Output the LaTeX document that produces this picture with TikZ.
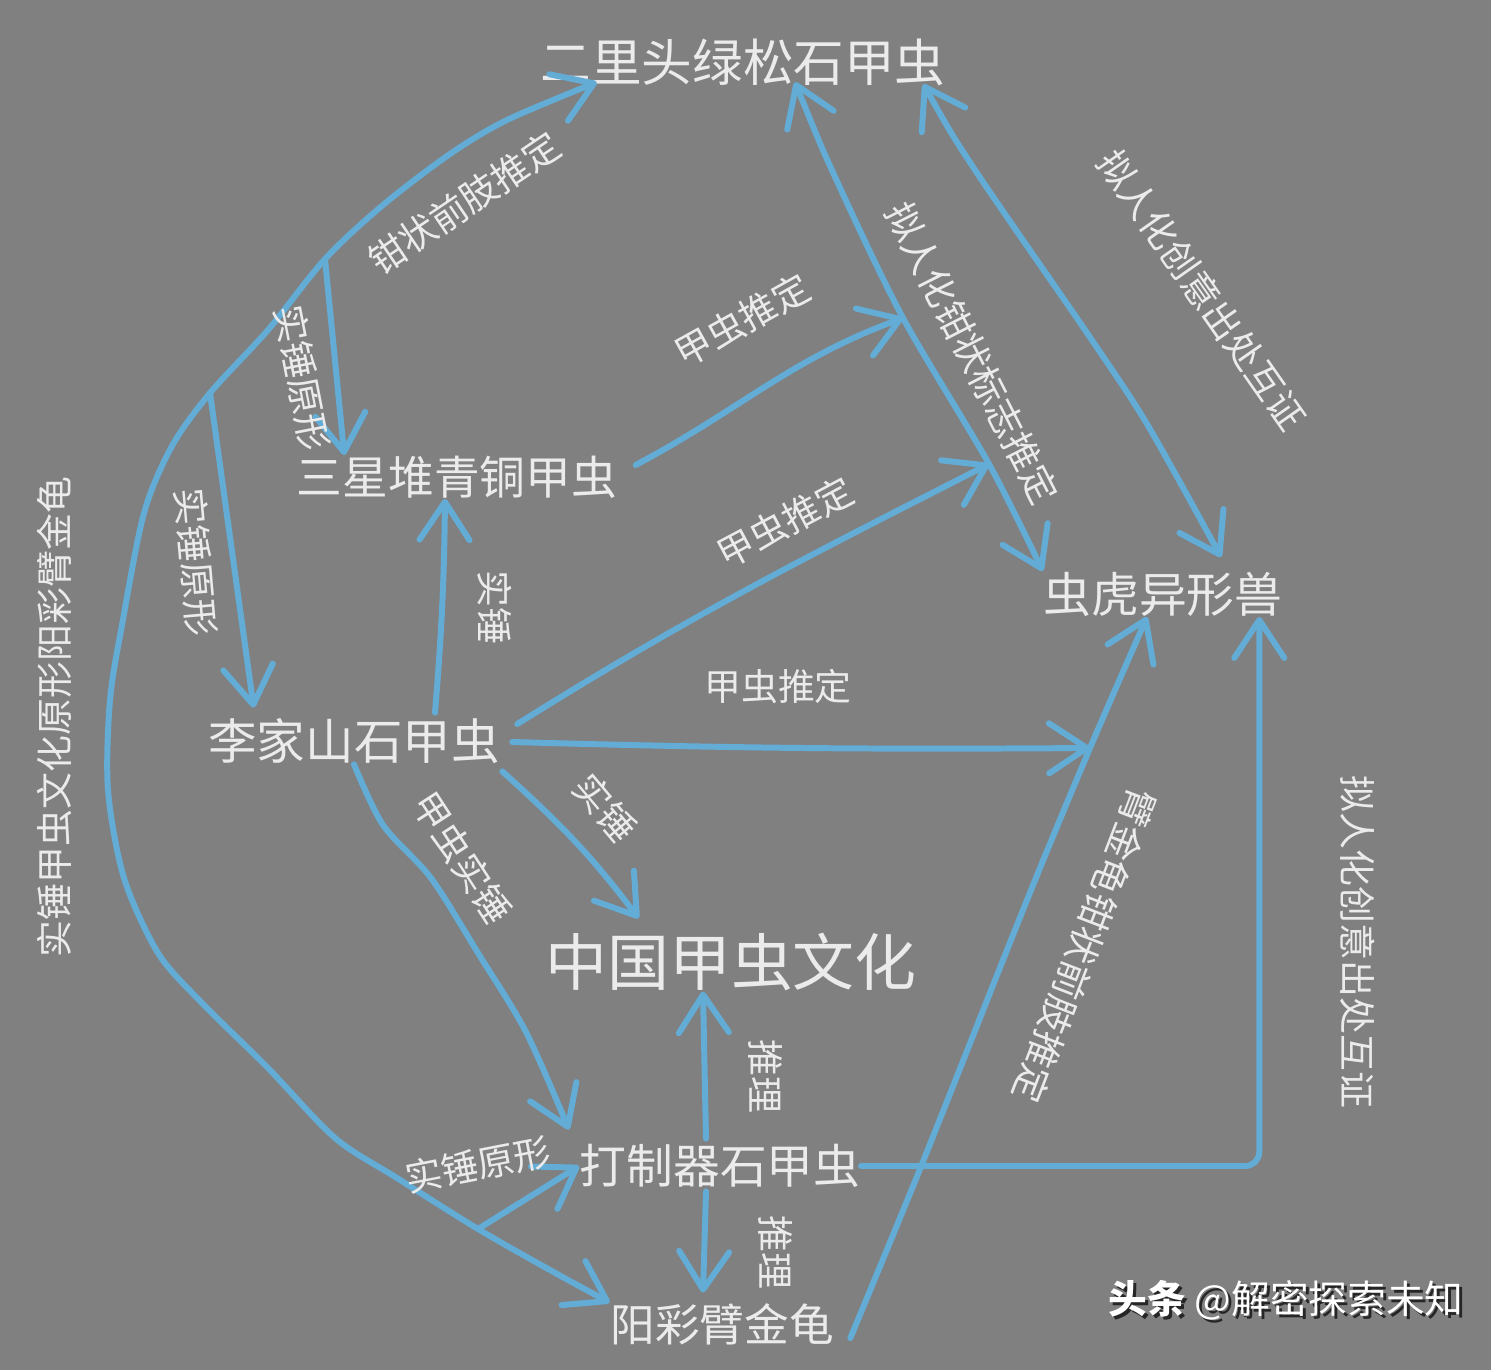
\documentclass[tikz,border=0pt]{standalone}
\usepackage{fontspec}
\setmainfont{Noto Sans CJK SC}
\usetikzlibrary{arrows.meta,calc}

\definecolor{board}{HTML}{808080}
\definecolor{chalkblue}{HTML}{62ACD5}
\definecolor{chalk}{HTML}{EBEBEB}
\newcommand{\chalksize}[1]{\fontsize{#1pt}{#1pt}\selectfont}

\tikzset{
  link/.style={draw=chalkblue, line width=1.7pt, line cap=round, line join=round},
  barb/.style={link, -{Straight Barb[length=3.8mm,width=5mm,round]}},
  barbs/.style={link, {Straight Barb[length=3.8mm,width=5mm,round]}-{Straight Barb[length=3.8mm,width=5mm,round]}},
  beetle/.style={text=chalk, inner sep=0pt},
  note/.style={text=chalk, inner sep=0pt, font=\chalksize{10.5}},
}

\begin{document}
\begin{tikzpicture}[x=0.01cm,y=-0.01cm]
		% board
		\fill[board] (0,0) rectangle (1491,1370);

		% beetles
		\node[beetle, font=\chalksize{14.4}] (erlitou) at (743,62) {二里头绿松石甲虫};
		\node[beetle, font=\chalksize{13}] (sanxing) at (457,477) {三星堆青铜甲虫};
		\node[beetle, font=\chalksize{13.6}] (chonghu) at (1163,594) {虫虎异形兽};
		\node[beetle, font=\chalksize{13.8}] (lijia) at (354,741) {李家山石甲虫};
		\node[beetle, font=\chalksize{17.6}] (culture) at (731,962) {中国甲虫文化};
		\node[beetle, font=\chalksize{13.3}] (dazhi) at (720,1166) {打制器石甲虫};
		\node[beetle, font=\chalksize{12.7}] (yangcai) at (722,1324) {阳彩臂金龟};

		% points on the lines
		\coordinate (forkA) at (325,259);
		\coordinate (forkB) at (210,393);
		\coordinate (forkC) at (478,1229);
		\coordinate (pinA) at (903,318);
		\coordinate (pinB) at (989,464);
		\coordinate (pinC) at (1090,748);

		% big curve on the left
		\draw[barbs] plot[smooth] coordinates {(yangcai.north west) (550,1270) (forkC) (397,1178) (335,1138) (268,1068) (201,1002) (158,953) (124,878) (108,790) (110,700) (122,625) (144,513) (172,446) (forkB) (268,330) (forkA) (383,205) (450,154) (507,120) ($(erlitou.south west)+(57,-4)$)};
		\draw[barb] (forkA) -- ($(sanxing.north west)+(48,0)$);
		\draw[barb] (forkB) -- ($(lijia.north west)+(46,-10)$);
		\draw[barb] (forkC) -- (dazhi.west);

		% erlitou -- chonghu
		\draw[barbs] plot[smooth] coordinates {($(erlitou.south)+(52,-4)$) (836,179) (pinA) (pinB) (chonghu.north west)};
		\draw[barbs] plot[smooth] coordinates {($(erlitou.south east)+(-23,-2)$) (975,170) (1085,330) (1147,424) ($(chonghu.north)+(58,-14)$)};

		% from sanxing and lijia
		\draw[barb] ($(sanxing.east)+(18,-12)$) to[out=28,in=200] (pinA);
		\draw[barb] ($(lijia.north)+(81,-5)$) to[bend right=2] ($(sanxing.south)+(-12,0)$);
		\draw[barb] ($(lijia.east)+(17,-17)$) to[out=32,in=207] (pinB);
		\draw[barb] ($(lijia.east)+(12,1)$) to[bend right=1] (pinC);
		\draw[barb] ($(lijia.south east)+(2,7)$) to[out=-42,in=127] ($(culture.north west)+(94,-14)$);
		\draw[barb] plot[smooth] coordinates {(lijia.south) (383,825) (431,878) (478,953) (526,1032) ($(dazhi.north west)+(-10,-14)$)};

		% from yangcai and dazhi
		\draw[barb] plot[smooth] coordinates {($(yangcai.east)+(16,14)$) (922,1164) (1027,900) (pinC) ($(chonghu.south)+(-16,0)$)};
		\draw[barb, rounded corners=4pt] (dazhi.east) -| ($(chonghu.south east)+(-24,0)$);
		\draw[barb] ($(dazhi.north)+(-14,-5)$) -- ($(culture.south)+(-28,0)$);
		\draw[barb] ($(dazhi.south)+(-14,3)$) -- ($(yangcai.north)+(-19,-10)$);

		% labels
		\node[note, rotate=34] (clawlimb) at (464,203) {钳状前肢推定};
		\node[note, rotate=-79] (protoA) at (302,378) {实锤原形};
		\node[note, rotate=-85] (protoB) at (196,562) {实锤原形};
		\node[note, rotate=11] (protoC) at (478,1165) {实锤原形};
		\node[note, rotate=90] (origin) at (54,717) {实锤甲虫文化原形阳彩臂金龟};
		\node[note, rotate=-90] (proofA) at (495,607) {实锤};
		\node[note, rotate=29] (guessA) at (742,320) {甲虫推定};
		\node[note, rotate=28] (guessB) at (785,522) {甲虫推定};
		\node[note] (guessC) at (778,686) {甲虫推定};
		\node[note, rotate=-63] (markC) at (972,353) {拟人化钳状标志推定};
		\node[note, rotate=-55] (mutualD) at (1202,290) {拟人化创意出处互证};
		\node[note, rotate=-50] (proofB) at (605,808) {实锤};
		\node[note, rotate=-57] (proofC) at (462,858) {甲虫实锤};
		\node[note, rotate=-111] (clawH) at (1085,946) {臂金龟钳状前肢推定};
		\node[note, rotate=-90] (mutualI) at (1358,942) {拟人化创意出处互证};
		\node[note, rotate=-90] (reasonA) at (766,1076) {推理};
		\node[note, rotate=-90] (reasonB) at (776,1252) {推理};

		% watermark
		\node[text=black!85, inner sep=0pt, anchor=west, font=\chalksize{11}] (stampshadow) at (1111,1303) {\textbf{头条} @解密探索未知};
		\node[text=white, inner sep=0pt, anchor=west, font=\chalksize{11}] (stamp) at (1108,1300) {\textbf{头条} @解密探索未知};
	\end{tikzpicture}
\end{document}
